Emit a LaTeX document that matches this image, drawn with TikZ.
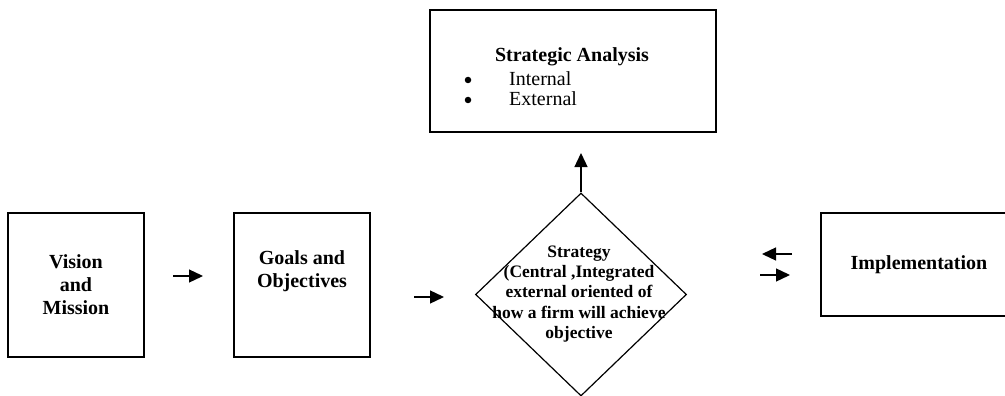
\documentclass[tikz,border=0pt]{standalone}
\usepackage{fontspec}
\setmainfont{Liberation Serif}
\usetikzlibrary{shapes.geometric,arrows.meta}

\tikzset{
  box/.style={draw, line width=1.4pt, inner sep=0pt},
  boxtext/.style={font=\bfseries\fontsize{20}{23}\selectfont, align=center, inner sep=0pt},
  smalltext/.style={font=\bfseries\fontsize{17.5}{20.3}\selectfont, align=center, inner sep=0pt},
  itemtext/.style={font=\fontsize{20}{23}\selectfont, inner sep=0pt, anchor=base west},
  bulletdot/.style={circle, fill, inner sep=0pt, minimum size=6.5pt},
  flow/.style={line width=1.3pt, -{Triangle[length=14pt,width=13pt]}}
}

\begin{document}
\begin{tikzpicture}[x=1pt,y=-1pt]
  \clip (0,0) rectangle (1005,396);

  % process boxes
  \node[box, minimum width=136pt, minimum height=144pt, boxtext] (vision) at (76,285) {Vision\\and\\Mission};
  \node[box, minimum width=136pt, minimum height=144pt] (goals) at (302,285) {};
  \node[boxtext] (goalstext) at (302,271) {Goals and\\Objectives};
  \node[box, minimum width=196pt, minimum height=103pt, boxtext] (impl) at (919,264.5) {Implementation};

  % strategic analysis box with its bullet list
  \node[box, minimum width=286pt, minimum height=122pt] (analysis) at (573,71) {};
  \node[font=\bfseries\fontsize{20}{23}\selectfont, inner sep=0pt, anchor=base] (ahead) at (572,62) {Strategic Analysis};
  \node[bulletdot] (b1) at (468,80) {};
  \node[itemtext] (i1) at (509,85) {Internal};
  \node[bulletdot] (b2) at (468,100) {};
  \node[itemtext] (i2) at (509,106) {External};

  % strategy decision
  \node[draw, diamond, line width=1.2pt, minimum width=211pt, minimum height=203pt, inner sep=0pt] (strat) at (581,294.5) {};
  \node[smalltext] (strattext) at (579,294) {Strategy\\(Central ,Integrated\\external oriented of\\how a firm will achieve\\objective};

  % arrow end points
  \coordinate (a1s) at (173,276);
  \coordinate (a1e) at (203,276);
  \coordinate (a2s) at (414,297);
  \coordinate (a2e) at (444,297);
  \coordinate (bks) at (792,254);
  \coordinate (bke) at (762,254);
  \coordinate (fws) at (760,275);
  \coordinate (fwe) at (790,275);
  \coordinate (uptip) at (581,153);

  \draw[flow] (a1s) -- (a1e);
  \draw[flow] (a2s) -- (a2e);
  \draw[flow] (bks) -- (bke);
  \draw[flow] (fws) -- (fwe);
  \draw[flow] (strat.north) -- (uptip);
\end{tikzpicture}
\end{document}
